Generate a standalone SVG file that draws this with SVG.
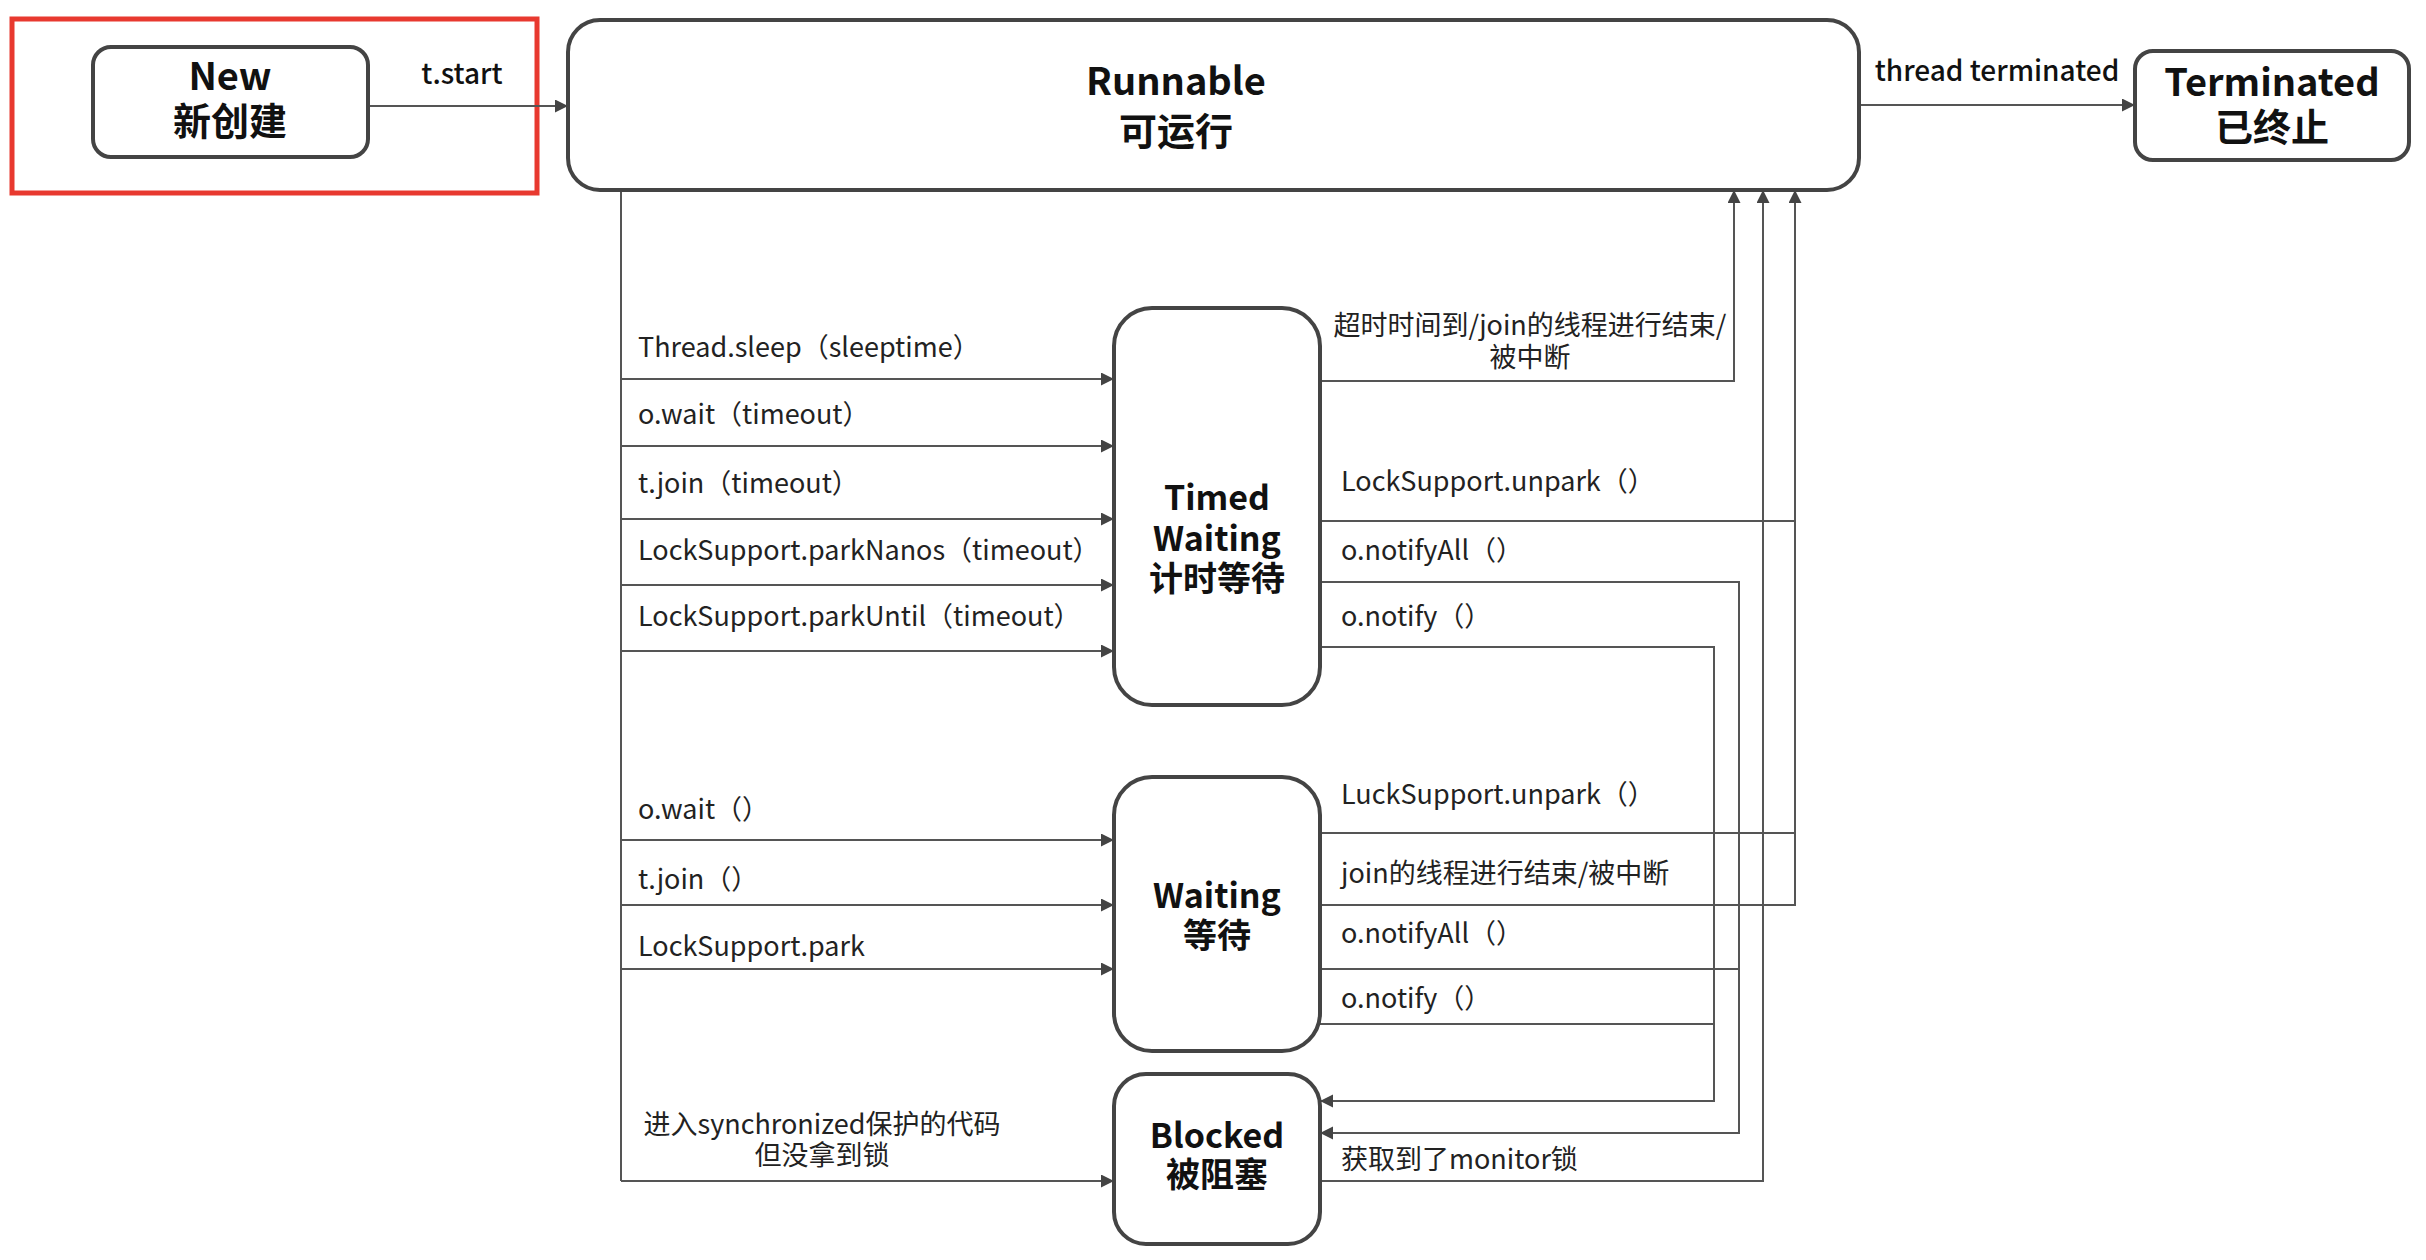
<svg xmlns="http://www.w3.org/2000/svg" width="2426" height="1260" viewBox="0 0 2426 1260">
<defs>
<style>
.node{fill:#fff;stroke:#444;stroke-width:4}
.title{font-family:"Noto Sans CJK SC","Noto Sans",sans-serif;font-weight:700;font-size:38px;fill:#111;text-anchor:middle;dominant-baseline:central}
.small{font-size:34px}
.lbl{font-family:"Noto Sans CJK SC","Noto Sans",sans-serif;font-size:27px;fill:#222;dominant-baseline:central}
.lblb{font-family:"Noto Sans CJK SC","Noto Sans",sans-serif;font-size:28px;font-weight:500;fill:#111;dominant-baseline:central;text-anchor:middle}
.c{text-anchor:middle}
.ln{fill:none;stroke:#555;stroke-width:2}
.arr{marker-end:url(#ah)}
</style>
<marker id="ah" markerUnits="userSpaceOnUse" markerWidth="14" markerHeight="14" refX="13" refY="6.5" orient="auto">
<path d="M0,0 L13,6.5 L0,13 z" fill="#444"/>
</marker>
</defs>
<rect width="2426" height="1260" fill="#fff"/>

<rect id="highlight" x="12" y="19" width="525" height="174" fill="none" stroke="#e8392f" stroke-width="5"/>

<g id="connectors">
<path class="ln arr" d="M368,106 H568"/>
<path class="ln arr" d="M1859,105 H2135"/>
<path class="ln" d="M621,190 V1181"/>
<path class="ln arr" d="M621,379 H1114"/>
<path class="ln arr" d="M621,446 H1114"/>
<path class="ln arr" d="M621,519 H1114"/>
<path class="ln arr" d="M621,585 H1114"/>
<path class="ln arr" d="M621,651 H1114"/>
<path class="ln arr" d="M621,840 H1114"/>
<path class="ln arr" d="M621,905 H1114"/>
<path class="ln arr" d="M621,969 H1114"/>
<path class="ln arr" d="M621,1181 H1114"/>
<path class="ln arr" d="M1320,381 H1734 V190"/>
<path class="ln" d="M1320,521 H1795"/>
<path class="ln arr" d="M1320,582 H1739 V1133 H1320"/>
<path class="ln arr" d="M1320,647 H1714 V1101 H1320"/>
<path class="ln" d="M1320,833 H1795"/>
<path class="ln arr" d="M1320,905 H1795 V190"/>
<path class="ln" d="M1320,969 H1739"/>
<path class="ln" d="M1320,1024 H1714"/>
<path class="ln arr" d="M1316,1181 H1763 V190"/>
</g>

<g id="edge-labels">
<text class="lblb" x="462" y="72">t.start</text>
<text class="lblb" x="1997" y="69" font-size="30">thread terminated</text>
<text class="lbl" x="638" y="345">Thread.sleep（sleeptime）</text>
<text class="lbl" x="638" y="412">o.wait（timeout）</text>
<text class="lbl" x="638" y="481">t.join（timeout）</text>
<text class="lbl" x="638" y="548">LockSupport.parkNanos（timeout）</text>
<text class="lbl" x="638" y="614">LockSupport.parkUntil（timeout）</text>
<text class="lbl" x="638" y="807">o.wait（）</text>
<text class="lbl" x="638" y="877">t.join（）</text>
<text class="lbl" x="638" y="944">LockSupport.park</text>
<text class="lbl c" x="822" y="1122" font-size="26">进入synchronized保护的代码</text>
<text class="lbl c" x="822" y="1153" font-size="26">但没拿到锁</text>
<text class="lbl c" x="1530" y="323" font-size="26">超时时间到/join的线程进行结束/</text>
<text class="lbl c" x="1530" y="355" font-size="26">被中断</text>
<text class="lbl" x="1341" y="479">LockSupport.unpark（）</text>
<text class="lbl" x="1341" y="548">o.notifyAll（）</text>
<text class="lbl" x="1341" y="614">o.notify（）</text>
<text class="lbl" x="1341" y="792">LuckSupport.unpark（）</text>
<text class="lbl" x="1341" y="871">join的线程进行结束/被中断</text>
<text class="lbl" x="1341" y="931">o.notifyAll（）</text>
<text class="lbl" x="1341" y="996">o.notify（）</text>
<text class="lbl" x="1341" y="1157">获取到了monitor锁</text>
</g>

<g id="node-new">
<rect class="node" x="93" y="47" width="275" height="110" rx="18"/>
<text class="title" x="230" y="73">New</text>
<text class="title" x="230" y="118">新创建</text>
</g>
<g id="node-runnable">
<rect class="node" x="568" y="20" width="1291" height="170" rx="32" stroke-width="5"/>
<text class="title" x="1176" y="78" font-size="48">Runnable</text>
<text class="title" x="1176" y="128" font-size="48">可运行</text>
</g>
<g id="node-terminated">
<rect class="node" x="2135" y="51" width="274" height="109" rx="18"/>
<text class="title" x="2272" y="79">Terminated</text>
<text class="title" x="2272" y="124">已终止</text>
</g>
<g id="node-timed-waiting">
<rect class="node" x="1114" y="308" width="206" height="397" rx="38"/>
<text class="title small" x="1217" y="495">Timed</text>
<text class="title small" x="1217" y="536">Waiting</text>
<text class="title small" x="1217" y="576">计时等待</text>
</g>
<g id="node-waiting">
<rect class="node" x="1114" y="777" width="206" height="274" rx="38"/>
<text class="title small" x="1217" y="893">Waiting</text>
<text class="title small" x="1217" y="933">等待</text>
</g>
<g id="node-blocked">
<rect class="node" x="1114" y="1074" width="206" height="170" rx="32"/>
<text class="title small" x="1217" y="1133">Blocked</text>
<text class="title small" x="1217" y="1172">被阻塞</text>
</g>
</svg>
